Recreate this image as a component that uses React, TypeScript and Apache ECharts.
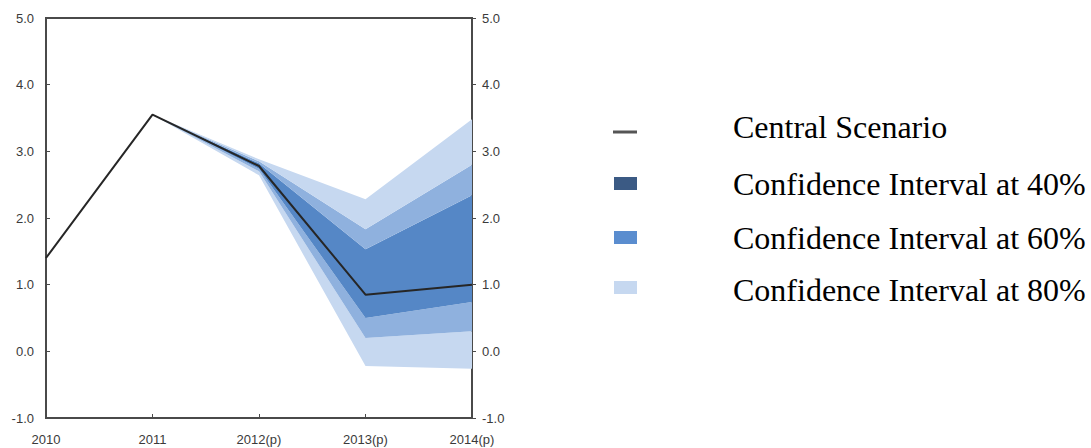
import React, { useEffect, useRef } from "react";
import * as echarts from "echarts";

const years = ["2010", "2011", "2012(p)", "2013(p)", "2014(p)"];
const central = [1.4, 3.55, 2.78, 0.85, 1.0];
const outerHi = [null, 3.55, 2.88, 2.28, 3.48];
const midHi = [null, 3.55, 2.85, 1.83, 2.8];
const innerHi = [null, 3.55, 2.82, 1.53, 2.34];
const innerLo = [null, 3.55, 2.74, 0.5, 0.74];
const midLo = [null, 3.55, 2.7, 0.2, 0.3];
const outerLo = [null, 3.55, 2.64, -0.22, -0.26];

const legendLabels = [
  "Central Scenario",
  "Confidence Interval at 40%",
  "Confidence Interval at 60%",
  "Confidence Interval at 80%",
];

const C_INNER = "#5587c6";
const C_MID = "#8fb1de";
const C_OUTER = "#c6d8f0";

function diff(a: (number | null)[], b: (number | null)[]) {
  return a.map((v, i) => (v == null || b[i] == null ? null : +((v as number) - (b[i] as number)).toFixed(4)));
}

export default function App() {
  const ref = useRef<HTMLDivElement>(null);
  useEffect(() => {
    if (!ref.current) return;
    const chart = echarts.init(ref.current, undefined, { renderer: "svg" });
    const axisColor = "#4a4a4a";
    const labelStyle = { color: "#3a3a3a", fontSize: 13, fontFamily: "Liberation Sans, Arial" };
    const band = (name: string, data: (number | null)[], color: string) => ({
      name,
      type: "line",
      stack: "fan",
      stackStrategy: "all",
      data,
      symbol: "none",
      lineStyle: { width: 0, opacity: 0 },
      areaStyle: { color, opacity: 1 },
      silent: true,
      z: 2,
    });
    chart.setOption({
      animation: false,
      grid: {
        left: 46,
        right: 1091 - 472,
        top: 18,
        bottom: 448 - 418,
        show: true,
        borderColor: axisColor,
        borderWidth: 2,
      },
      xAxis: {
        type: "category",
        data: years,
        boundaryGap: false,
        axisLine: { show: true, onZero: false, lineStyle: { color: axisColor, width: 2 } },
        axisTick: { show: true, inside: true, length: 4, lineStyle: { color: axisColor } },
        axisLabel: { ...labelStyle, margin: 15, showMaxLabel: true, showMinLabel: true, interval: 0 },
        splitLine: { show: false },
      },
      yAxis: [
        {
          type: "value",
          min: -1,
          max: 5,
          interval: 1,
          position: "left",
          axisLine: { show: true, onZero: false, lineStyle: { color: axisColor, width: 2 } },
          axisTick: { show: true, inside: true, length: 4, lineStyle: { color: axisColor } },
          axisLabel: { ...labelStyle, margin: 12, formatter: (v: number) => v.toFixed(1) },
          splitLine: { show: false },
        },
        {
          type: "value",
          min: -1,
          max: 5,
          interval: 1,
          position: "right",
          axisLine: { show: true, onZero: false, lineStyle: { color: axisColor, width: 2 } },
          axisTick: { show: true, inside: false, length: 4, lineStyle: { color: axisColor } },
          axisLabel: { ...labelStyle, margin: 10, formatter: (v: number) => v.toFixed(1) },
          splitLine: { show: false },
        },
      ],
      series: [
        {
          name: "base",
          type: "line",
          stack: "fan",
          stackStrategy: "all",
          data: outerLo,
          symbol: "none",
          lineStyle: { width: 0, opacity: 0 },
          silent: true,
        },
        band("o1", diff(midLo, outerLo), C_OUTER),
        band("m1", diff(innerLo, midLo), C_MID),
        band("i", diff(innerHi, innerLo), C_INNER),
        band("m2", diff(midHi, innerHi), C_MID),
        band("o2", diff(outerHi, midHi), C_OUTER),
        {
          name: "Central Scenario",
          type: "line",
          data: central,
          symbol: "none",
          lineStyle: { color: "#262626", width: 2 },
          z: 5,
        },
      ],
      graphic: [
        {
          type: "line",
          shape: { x1: 613, y1: 132, x2: 637, y2: 132 },
          style: { stroke: "#555", lineWidth: 3 },
        },
        { type: "rect", shape: { x: 614, y: 177, width: 23, height: 13 }, style: { fill: "#3b5a84" } },
        { type: "rect", shape: { x: 614, y: 231, width: 23, height: 13 }, style: { fill: "#5a8dcf" } },
        { type: "rect", shape: { x: 614, y: 281, width: 23, height: 13 }, style: { fill: "#c6d8f0" } },
        ...legendLabels.map((t, i) => ({
          type: "text",
          x: 733,
          y: [127, 184, 238, 290][i],
          style: {
            text: t,
            fill: "#000",
            font: "32px 'Liberation Serif', 'Times New Roman', serif",
            verticalAlign: "middle",
            align: "left",
          },
        })),
      ],
    });
    return () => chart.dispose();
  }, []);
  return (
    <div
      ref={ref}
      style={{ position: "absolute", left: 0, top: 0, width: 1091, height: 448 }}
    />
  );
}
